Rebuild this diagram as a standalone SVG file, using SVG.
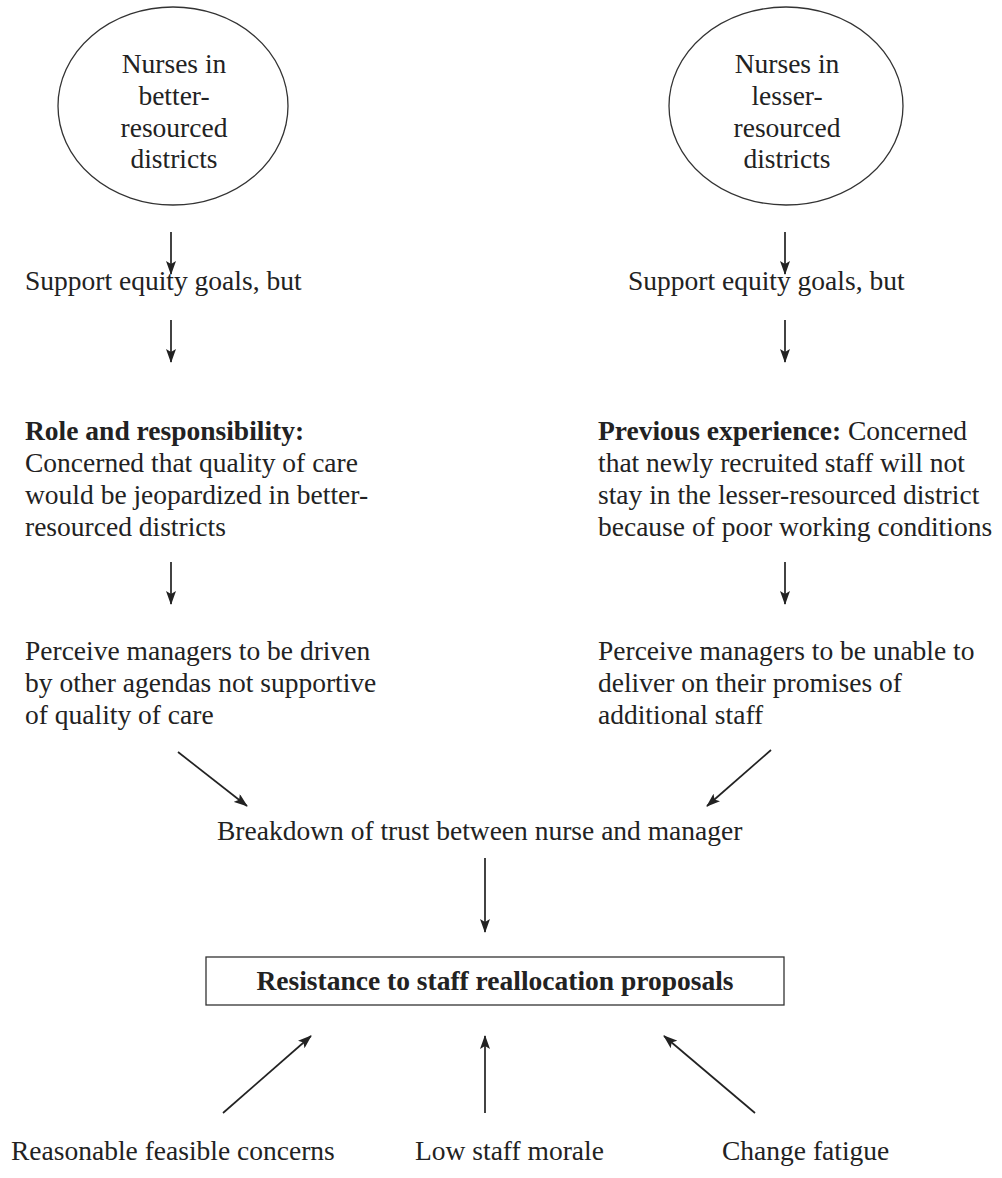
<svg xmlns="http://www.w3.org/2000/svg" width="1002" height="1178" viewBox="0 0 1002 1178">
<defs>
<marker id="ah" markerWidth="14" markerHeight="10" refX="13" refY="5" orient="auto" markerUnits="userSpaceOnUse">
<path d="M0,0 L14,5 L0,10 L3,5 Z" fill="#222"/>
</marker>
<style>
text{font-family:"Liberation Serif","Times New Roman",serif;font-size:27.5px;fill:#222}
.b{font-weight:bold}
.c{text-anchor:middle}
.n{fill:#fff;stroke:#333;stroke-width:1.3}
.e{stroke:#222;stroke-width:1.7;fill:none;marker-end:url(#ah)}
</style>
</defs>
<rect width="1002" height="1178" fill="#fff"/>
<g id="better">
<ellipse class="n" cx="173" cy="106" rx="115" ry="99"/>
<text class="c" x="174" y="73">Nurses in</text>
<text class="c" x="174" y="105">better-</text>
<text class="c" x="174" y="137">resourced</text>
<text class="c" x="174" y="168">districts</text>
</g>
<g id="lesser">
<ellipse class="n" cx="786" cy="106" rx="117" ry="99"/>
<text class="c" x="787" y="73">Nurses in</text>
<text class="c" x="787" y="105">lesser-</text>
<text class="c" x="787" y="137">resourced</text>
<text class="c" x="787" y="168">districts</text>
</g>
<g id="support-left"><text x="25" y="290">Support equity goals, but</text></g>
<g id="support-right"><text x="628" y="290">Support equity goals, but</text></g>
<g id="role">
<text class="b" x="25" y="440">Role and responsibility:</text>
<text x="25" y="472">Concerned that quality of care</text>
<text x="25" y="504">would be jeopardized in better-</text>
<text x="25" y="536">resourced districts</text>
</g>
<g id="previous">
<text x="598" y="440"><tspan class="b">Previous experience:</tspan> Concerned</text>
<text x="598" y="472">that newly recruited staff will not</text>
<text x="598" y="504">stay in the lesser-resourced district</text>
<text x="598" y="536">because of poor working conditions</text>
</g>
<g id="perceive-left">
<text x="25" y="660">Perceive managers to be driven</text>
<text x="25" y="692">by other agendas not supportive</text>
<text x="25" y="724">of quality of care</text>
</g>
<g id="perceive-right">
<text x="598" y="660">Perceive managers to be unable to</text>
<text x="598" y="692">deliver on their promises of</text>
<text x="598" y="724">additional staff</text>
</g>
<g id="breakdown"><text x="217" y="840">Breakdown of trust between nurse and manager</text></g>
<g id="resistance">
<rect class="n" x="206" y="957" width="578" height="48"/>
<text class="b c" x="495" y="990">Resistance to staff reallocation proposals</text>
</g>
<g id="reasonable"><text x="11" y="1160">Reasonable feasible concerns</text></g>
<g id="morale"><text x="415" y="1160">Low staff morale</text></g>
<g id="fatigue"><text x="722" y="1160">Change fatigue</text></g>
<g id="connectors">
<line class="e" x1="171" y1="232" x2="171" y2="274"/>
<line class="e" x1="171" y1="320" x2="171" y2="362"/>
<line class="e" x1="171" y1="562" x2="171" y2="604"/>
<line class="e" x1="785" y1="232" x2="785" y2="274"/>
<line class="e" x1="785" y1="320" x2="785" y2="362"/>
<line class="e" x1="785" y1="562" x2="785" y2="604"/>
<line class="e" x1="178" y1="752" x2="247" y2="806"/>
<line class="e" x1="771" y1="750" x2="707" y2="806"/>
<line class="e" x1="485" y1="858" x2="485" y2="932"/>
<line class="e" x1="223" y1="1113" x2="311" y2="1036"/>
<line class="e" x1="485" y1="1113" x2="485" y2="1036"/>
<line class="e" x1="755" y1="1113" x2="664" y2="1036"/>
</g>
</svg>
